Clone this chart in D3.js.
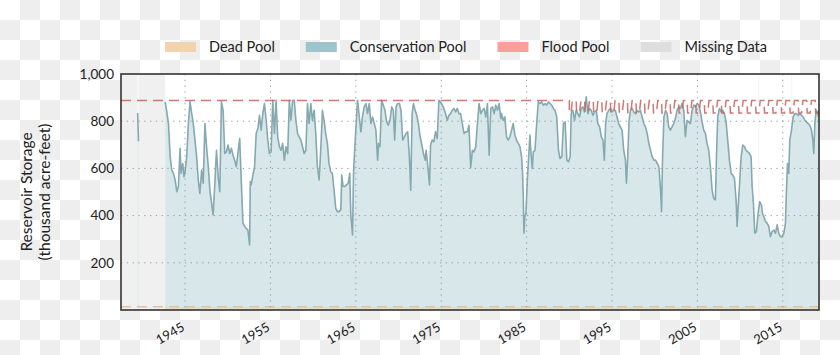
<!DOCTYPE html>
<html><head><meta charset="utf-8">
<script src="https://cdn.jsdelivr.net/npm/d3@7"></script>
<style>
html,body{margin:0;padding:0;background:#fff}
svg{display:block}
text{font-family:Lato,"Open Sans",sans-serif;fill:#222}
</style>
</head><body>
<svg id="chart" width="840" height="355"></svg>
<script>
// ---- data (decimal year, thousand acre-feet) ----
const earlyStorage = [[1939.45,835],[1939.55,715]];
const storage = [
[1942.67,882],[1942.87,839],[1943.06,790],[1943.26,649],[1943.45,593],[1943.64,579],[1943.84,551],[1944.03,501],
[1944.22,523],[1944.42,685],[1944.53,579],[1944.73,621],[1944.88,565],[1945.00,586],[1945.19,649],[1945.39,790],
[1945.58,882],[1945.78,832],[1945.97,790],[1946.16,720],[1946.36,649],[1946.55,551],[1946.74,494],[1946.94,593],
[1947.13,537],[1947.33,790],[1947.52,692],[1947.71,614],[1947.91,508],[1948.29,403],[1948.49,537],[1948.68,677],
[1948.88,565],[1949.07,501],[1949.26,882],[1949.46,846],[1949.65,663],[1949.84,670],[1950.04,699],[1950.23,663],
[1950.43,685],[1950.62,656],[1950.81,635],[1951.00,607],[1951.40,727],[1951.59,544],[1951.78,368],[1951.98,354],
[1952.17,346],[1952.36,339],[1952.56,276],[1952.64,544],[1952.75,530],[1952.95,572],[1953.14,607],[1953.33,748],
[1953.53,769],[1953.72,825],[1953.91,762],[1954.11,832],[1954.30,875],[1954.50,804],[1954.69,720],[1954.88,663],
[1955.08,670],[1955.27,889],[1955.47,748],[1955.66,889],[1955.85,734],[1956.05,692],[1956.24,677],[1956.43,706],
[1956.63,635],[1956.82,692],[1957.02,663],[1957.21,889],[1957.40,804],[1957.60,889],[1957.79,889],[1957.98,804],
[1958.18,748],[1958.37,734],[1958.57,720],[1958.76,692],[1958.95,663],[1959.15,677],[1959.34,875],[1959.53,790],
[1959.73,875],[1959.92,804],[1960.12,846],[1960.31,748],[1960.50,607],[1960.70,551],[1960.89,677],[1961.09,846],
[1961.28,804],[1961.47,748],[1961.67,706],[1961.86,620],[1962.06,586],[1962.25,579],[1962.45,508],[1962.65,431],
[1962.84,417],[1963.04,417],[1963.24,424],[1963.35,572],[1963.51,523],[1963.71,523],[1963.90,530],[1964.10,537],
[1964.29,579],[1964.41,403],[1964.53,354],[1964.61,318],[1964.73,579],[1964.84,663],[1965.00,762],[1965.20,889],
[1965.39,825],[1965.59,755],[1965.78,818],[1965.98,861],[1966.18,875],[1966.37,832],[1966.57,875],[1966.76,790],
[1966.96,818],[1967.16,790],[1967.35,762],[1967.55,635],[1967.67,706],[1967.82,692],[1968.02,889],[1968.22,868],
[1968.41,846],[1968.61,797],[1968.80,783],[1969.00,804],[1969.20,861],[1969.39,846],[1969.55,720],[1969.71,861],
[1969.90,875],[1970.10,875],[1970.29,846],[1970.49,720],[1970.69,734],[1970.88,748],[1971.08,755],[1971.27,649],
[1971.43,508],[1971.59,832],[1971.75,875],[1971.94,846],[1972.14,825],[1972.33,790],[1972.53,734],[1972.73,699],
[1972.92,663],[1973.12,635],[1973.24,677],[1973.43,607],[1973.63,530],[1973.75,699],[1973.94,720],[1974.14,713],
[1974.33,755],[1974.53,727],[1974.73,889],[1974.92,882],[1975.12,868],[1975.31,854],[1975.51,832],[1975.71,804],
[1975.90,825],[1976.10,832],[1976.29,846],[1976.49,854],[1976.69,839],[1976.88,854],[1977.08,832],[1977.27,832],
[1977.47,790],[1977.67,748],[1977.86,755],[1978.06,755],[1978.25,783],[1978.45,603],[1978.65,677],[1978.84,670],
[1979.04,692],[1979.24,790],[1979.43,875],[1979.63,832],[1979.82,846],[1980.02,854],[1980.22,818],[1980.41,875],
[1980.61,656],[1980.80,854],[1981.00,861],[1981.20,832],[1981.39,868],[1981.59,846],[1981.78,875],[1981.98,811],
[1982.06,832],[1982.25,804],[1982.45,818],[1982.65,734],[1982.84,720],[1983.04,734],[1983.24,762],[1983.43,790],
[1983.63,741],[1983.82,720],[1984.02,706],[1984.22,692],[1984.41,649],[1984.53,579],[1984.61,480],[1984.69,325],
[1984.80,396],[1984.92,410],[1985.08,550],[1985.24,649],[1985.39,741],[1985.51,663],[1985.67,600],[1985.78,670],
[1985.98,677],[1986.18,790],[1986.37,882],[1986.57,875],[1986.76,882],[1986.96,868],[1987.16,875],[1987.35,868],
[1987.55,882],[1987.75,875],[1987.94,868],[1988.14,854],[1988.33,846],[1988.53,818],[1988.73,677],[1988.92,642],
[1989.12,649],[1989.31,790],[1989.51,797],[1989.71,635],[1989.90,628],[1990.10,649],[1990.22,832],[1990.41,846],
[1990.61,804],[1990.80,846],[1991.00,832],[1991.20,818],[1991.39,854],[1991.59,861],[1991.78,839],[1991.98,903],
[1992.18,832],[1992.37,854],[1992.57,846],[1992.76,825],[1992.96,839],[1993.16,846],[1993.35,790],[1993.55,776],
[1993.75,734],[1993.94,720],[1994.10,635],[1994.25,790],[1994.41,832],[1994.61,846],[1994.80,854],[1995.00,839],
[1995.20,846],[1995.39,846],[1995.59,818],[1995.78,790],[1995.98,776],[1996.18,762],[1996.37,677],[1996.57,635],
[1996.69,537],[1996.84,649],[1997.00,804],[1997.16,846],[1997.35,854],[1997.55,839],[1997.75,832],[1997.94,846],
[1998.14,839],[1998.33,846],[1998.53,818],[1998.73,790],[1998.92,776],[1999.12,748],[1999.31,706],[1999.51,677],
[1999.71,649],[1999.90,635],[2000.10,635],[2000.29,621],[2000.49,607],[2000.69,508],[2000.80,417],[2000.92,649],
[2001.08,818],[2001.27,846],[2001.45,832],[2001.64,776],[2001.84,762],[2002.03,776],[2002.23,790],[2002.42,811],
[2002.62,846],[2002.81,861],[2003.01,854],[2003.20,875],[2003.40,846],[2003.59,734],[2003.79,804],[2003.98,797],
[2004.18,790],[2004.38,846],[2004.57,868],[2004.77,861],[2004.96,875],[2005.16,868],[2005.35,839],[2005.55,797],
[2005.74,762],[2005.94,748],[2006.13,706],[2006.33,677],[2006.52,607],[2006.72,508],[2006.91,473],[2007.11,466],
[2007.23,649],[2007.38,818],[2007.58,854],[2007.77,839],[2007.97,846],[2008.16,832],[2008.36,797],[2008.55,720],
[2008.75,635],[2008.95,579],[2009.14,572],[2009.34,558],[2009.53,466],[2009.65,354],[2009.77,438],[2009.92,523],
[2010.12,649],[2010.31,699],[2010.51,692],[2010.70,677],[2010.90,670],[2011.09,663],[2011.29,649],[2011.41,523],
[2011.56,452],[2011.72,325],[2011.91,332],[2012.11,410],[2012.30,459],[2012.50,445],[2012.62,410],[2012.77,396],
[2012.97,375],[2013.16,368],[2013.36,354],[2013.55,311],[2013.75,332],[2013.95,339],[2014.14,325],[2014.34,361],
[2014.53,325],[2014.73,311],[2014.92,311],[2015.12,325],[2015.31,368],[2015.43,508],[2015.55,621],[2015.70,579],
[2015.82,720],[2016.02,762],[2016.21,818],[2016.41,832],[2016.60,832],[2016.80,825],[2017.00,832],[2017.19,825],
[2017.38,818],[2017.58,804],[2017.77,797],[2017.97,790],[2018.16,783],[2018.36,762],[2018.52,720],[2018.63,663],
[2018.75,790],[2018.91,846],[2019.06,839],[2019.18,818]
];
const missingSpans = [[1937.5,1939.45],[1939.55,1942.67],[2012.12,2012.22],[2015.98,2016.08]];
const floodPoolTop = 888;
const seasonalStartYear = 1990;
// seasonal flood-control level within a year (fraction of year, thousand acre-feet)
const floodSeason = [[0,835],[0.2,835],[0.36,888],[0.8,888],[0.86,835],[1,835]];
const deadPool = 14;
const yTicks = [200,400,600,800,1000];
const xTicks = [1945,1955,1965,1975,1985,1995,2005,2015];
const legendItems = [
  {label:"Dead Pool", color:"#f3d3ad"},
  {label:"Conservation Pool", color:"#9fc5cc"},
  {label:"Flood Pool", color:"#f9a09a"},
  {label:"Missing Data", color:"#dedede"}
];
const xDomain = [1937.5, 2019.24];

// ---- chart ----
const svg = d3.select("#chart");
const m = {left:121, top:74, right:819, bottom:310};
const x = d3.scaleLinear().domain(xDomain).range([m.left, m.right]);
const y = d3.scaleLinear().domain([0,1000]).range([m.bottom, m.top]);

// checkerboard background
const defs = svg.append("defs");
const pat = defs.append("pattern").attr("id","chk").attr("patternUnits","userSpaceOnUse")
  .attr("width",40).attr("height",40);
pat.append("rect").attr("width",40).attr("height",40).attr("fill","#ffffff");
pat.append("rect").attr("x",20).attr("y",0).attr("width",20).attr("height",20).attr("fill","#eeeeee");
pat.append("rect").attr("x",0).attr("y",20).attr("width",20).attr("height",20).attr("fill","#eeeeee");
svg.append("rect").attr("width",840).attr("height",355).attr("fill","url(#chk)");

defs.append("clipPath").attr("id","plotclip").append("rect")
  .attr("x",m.left).attr("y",m.top).attr("width",m.right-m.left).attr("height",m.bottom-m.top);

svg.append("rect").attr("x",m.left).attr("y",m.top).attr("width",m.right-m.left)
  .attr("height",m.bottom-m.top).attr("fill","#fff");

const plot = svg.append("g").attr("clip-path","url(#plotclip)");

// missing data
plot.selectAll("rect.miss").data(missingSpans).join("rect").attr("class","miss")
  .attr("x",d=>x(d[0])).attr("width",d=>Math.max(1,x(d[1])-x(d[0])))
  .attr("y",m.top).attr("height",m.bottom-m.top)
  .attr("fill","#dedede").attr("fill-opacity",0.45);

// conservation fill
const area = d3.area().x(d=>x(d[0])).y0(y(0)).y1(d=>y(d[1]));
[earlyStorage, storage].forEach(s=>{
  plot.append("path").datum(s).attr("d",area).attr("fill","#9fc5cc").attr("fill-opacity",0.42);
});
// thin missing bands over the fill
plot.selectAll("rect.miss2").data(missingSpans.slice(2)).join("rect").attr("class","miss2")
  .attr("x",d=>x(d[0])).attr("width",d=>Math.max(1,x(d[1])-x(d[0])))
  .attr("y",m.top).attr("height",m.bottom-m.top)
  .attr("fill","#ffffff").attr("fill-opacity",0.35);

// dead pool fill
plot.append("rect").attr("x",x(1942.67)).attr("width",m.right-x(1942.67))
  .attr("y",y(deadPool)).attr("height",y(0)-y(deadPool)).attr("fill","#f3d3ad").attr("fill-opacity",0.45);

// grid
const grid = svg.append("g").attr("stroke","#9a9a9a").attr("stroke-width",1).attr("stroke-dasharray","1.3,4.5");
grid.selectAll("line.h").data(yTicks.filter(t=>t<1000)).join("line")
  .attr("x1",m.left).attr("x2",m.right).attr("y1",d=>y(d)).attr("y2",d=>y(d));
grid.selectAll("line.v").data(xTicks).join("line")
  .attr("y1",m.top).attr("y2",m.bottom).attr("x1",d=>x(d)).attr("x2",d=>x(d));

// storage line
const line = d3.line().x(d=>x(d[0])).y(d=>y(d[1]));
[earlyStorage, storage].forEach(s=>{
  plot.append("path").datum(s).attr("d",line).attr("fill","none")
    .attr("stroke","#85a9b0").attr("stroke-width",1.6).attr("stroke-linejoin","round");
});

// flood pool curve
const floodCurve = [[xDomain[0], floodPoolTop],[seasonalStartYear, floodPoolTop]];
for (let yr = seasonalStartYear; yr < Math.ceil(xDomain[1]); yr++) {
  floodSeason.forEach(p => floodCurve.push([yr + p[0], p[1]]));
}
plot.append("path").datum(floodCurve).attr("d",line).attr("fill","none")
  .attr("stroke","#c4625c").attr("stroke-opacity",0.85).attr("stroke-width",1.5)
  .attr("stroke-dasharray","10,6");

// dead pool line
plot.append("path").datum([[xDomain[0],deadPool],[xDomain[1],deadPool]]).attr("d",line)
  .attr("fill","none").attr("stroke","#e2c29c").attr("stroke-width",1.5).attr("stroke-dasharray","10,6");

// border
svg.append("rect").attr("x",m.left).attr("y",m.top).attr("width",m.right-m.left)
  .attr("height",m.bottom-m.top).attr("fill","none").attr("stroke","#333").attr("stroke-width",1.6);

// y axis
const yAx = svg.append("g").attr("transform",`translate(${m.left},0)`)
  .call(d3.axisLeft(y).tickValues(yTicks).tickFormat(d3.format(",")).tickSize(0).tickPadding(7));
yAx.select(".domain").remove();
yAx.selectAll("text").attr("font-size",13.5).style("font-family","Lato, 'Open Sans', sans-serif").attr("fill","#222");

// x axis
const xAx = svg.append("g").attr("transform",`translate(0,${m.bottom})`)
  .call(d3.axisBottom(x).tickValues(xTicks).tickFormat(d3.format("d")).tickSize(0));
xAx.select(".domain").remove();
xAx.selectAll("text").attr("font-size",13).style("font-family","Lato, 'Open Sans', sans-serif")
  .attr("fill","#222").attr("text-anchor","end").attr("dy",null).attr("y",null)
  .attr("transform","translate(-4,13) rotate(-30)").attr("dy","0.6em");

// y label
const yl = svg.append("text").attr("transform",`translate(0,${(m.top+m.bottom)/2}) rotate(-90)`)
  .attr("text-anchor","middle").attr("font-size",15.5);
yl.append("tspan").attr("x",0).attr("y",32).text("Reservoir Storage");
yl.append("tspan").attr("x",0).attr("y",50).text("(thousand acre-feet)");

// legend
const lg = svg.append("g");
let lx = 165;
legendItems.forEach(it=>{
  lg.append("rect").attr("x",lx).attr("y",42).attr("width",31).attr("height",10).attr("fill",it.color);
  const t = lg.append("text").attr("x",lx+44).attr("y",51.5).attr("font-size",14.5).text(it.label);
  lx += 44 + t.node().getComputedTextLength() + 31;
});
</script>
</body></html>
